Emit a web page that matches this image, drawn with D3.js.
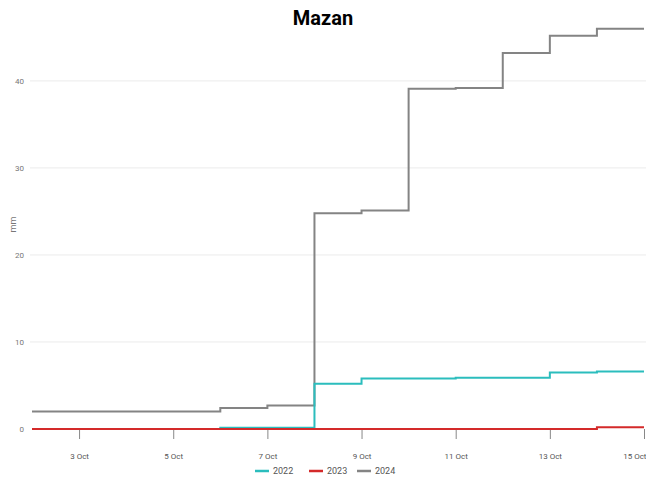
<!DOCTYPE html>
<html>
<head>
<meta charset="utf-8">
<script src="https://cdn.jsdelivr.net/npm/d3@7"></script>
<style>
  body { margin: 0; background: #fff; }
  svg { display: block; font-family: Roboto, "Liberation Sans", sans-serif; }
</style>
</head>
<body>
<svg id="chart" width="646" height="477"></svg>
<script>
// days of October shown on the chart
const days = [2, 3, 4, 5, 6, 7, 8, 9, 10, 11, 12, 13, 14, 15];
const years = ["2022", "2023", "2024"];
// cumulative rainfall (mm), one value per day
const rain2022 = [0, 0, 0, 0, 0.15, 0.15, 5.2, 5.8, 5.8, 5.9, 5.9, 6.5, 6.6, 6.6];
const rain2023 = [0, 0, 0, 0, 0, 0, 0, 0, 0, 0, 0, 0, 0.2, 0.2];
const rain2024 = [2.0, 2.0, 2.0, 2.0, 2.4, 2.7, 24.8, 25.1, 39.1, 39.2, 43.2, 45.2, 46.0, 46.0];
const yTicks = [0, 10, 20, 30, 40];
const colors = ["#2bbdbd", "#d42a2a", "#848484"];

const svg = d3.select("#chart");
const margin = {left: 32, right: 2, top: 20, bottom: 48};
const W = 646, H = 477;

const dates = days.map(d => new Date(2024, 9, d));
const x = d3.scaleTime()
    .domain([dates[0], dates[dates.length - 1]])
    .range([margin.left, W - margin.right]);
const y = d3.scaleLinear()
    .domain([0, 47])
    .range([H - margin.bottom, margin.top]);

// title
svg.append("text")
    .attr("x", 323).attr("y", 25)
    .attr("text-anchor", "middle")
    .attr("font-size", 20).attr("font-weight", "bold")
    .attr("fill", "#000")
    .text("Mazan");

// grid + y labels
const gy = svg.append("g");
gy.selectAll("line").data(yTicks.filter(t => t > 0)).enter().append("line")
    .attr("x1", margin.left - 2).attr("x2", W)
    .attr("y1", d => y(d)).attr("y2", d => y(d))
    .attr("stroke", "#ebebeb").attr("stroke-width", 1);
gy.selectAll("text").data(yTicks).enter().append("text")
    .attr("x", 24).attr("y", d => y(d) + 3)
    .attr("text-anchor", "end")
    .attr("font-size", 8).attr("fill", "#777")
    .text(d => d);

svg.append("text")
    .attr("transform", `translate(16, ${y(23.5)}) rotate(-90)`)
    .attr("text-anchor", "middle")
    .attr("font-size", 9).attr("fill", "#777")
    .text("mm");

// x axis
const xAxis = d3.axisBottom(x)
    .tickValues(days.filter(d => d % 2 === 1).map(d => new Date(2024, 9, d)))
    .tickFormat(d3.timeFormat("%-d Oct"))
    .tickSize(10);
const gx = svg.append("g")
    .attr("transform", `translate(0, ${y(0)})`)
    .call(xAxis);
gx.select(".domain").remove();
gx.selectAll(".tick line").attr("stroke", "#888");
gx.selectAll(".tick text")
    .attr("dy", 17).attr("font-size", 8).attr("fill", "#555")
    .attr("font-family", "Roboto, sans-serif");
// last label sits against the right edge
gx.selectAll(".tick text").filter((d, i, n) => i === n.length - 1)
    .attr("text-anchor", "end").attr("x", 2);

// lines
const series = [rain2022, rain2023, rain2024];
const line = d3.line()
    .x((d, i) => x(dates[i]))
    .y(d => y(d))
    .curve(d3.curveStepAfter);

// draw 2024 first, then 2022, then 2023 on top
[2, 0, 1].forEach(k => {
  svg.append("path")
      .datum(series[k])
      .attr("fill", "none")
      .attr("stroke", colors[k])
      .attr("stroke-width", 2)
      .attr("d", line);
});

// legend
const legend = svg.append("g").attr("transform", "translate(255, 471)");
const lx = [0, 54, 102];
years.forEach((yr, i) => {
  legend.append("line")
      .attr("x1", lx[i]).attr("x2", lx[i] + 14)
      .attr("y1", 0).attr("y2", 0)
      .attr("stroke", colors[i]).attr("stroke-width", 2.5);
  legend.append("text")
      .attr("x", lx[i] + 18).attr("y", 3)
      .attr("font-size", 9).attr("fill", "#555")
      .text(yr);
});
</script>
</body>
</html>
